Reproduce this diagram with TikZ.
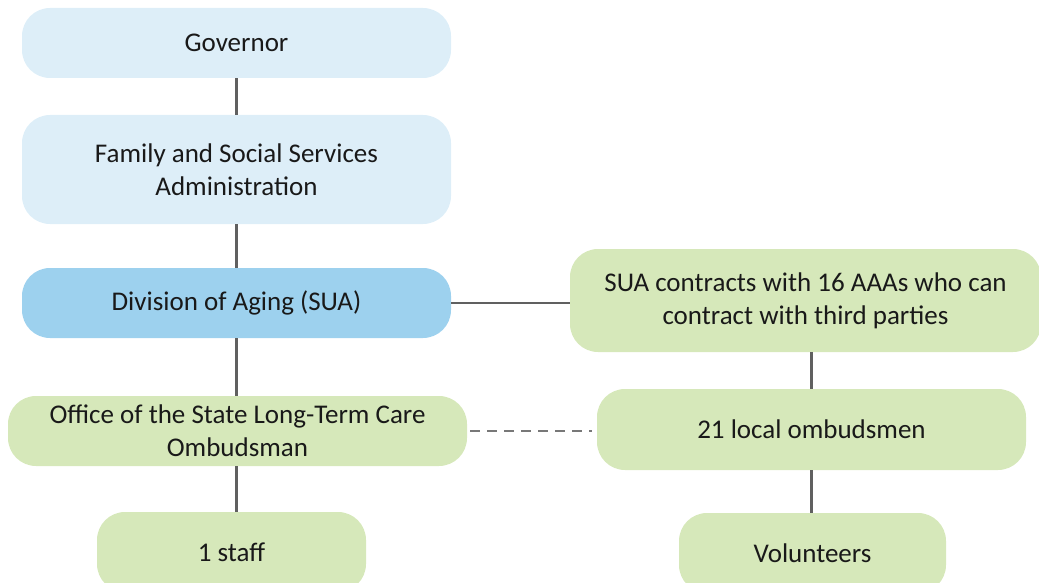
\documentclass[tikz,border=0pt]{standalone}
\usepackage{fontspec}
\setmainfont{Carlito}
\usetikzlibrary{calc}
\definecolor{paleblue}{HTML}{DDEEF8}
\definecolor{midblue}{HTML}{9DD1EE}
\definecolor{palegreen}{HTML}{D6E8BA}
\definecolor{linkgray}{HTML}{606060}
\tikzset{
	box/.style={rounded corners=28pt, inner sep=0pt, align=center, font=\fontsize{27}{33}\selectfont, text=black!90},
	govbox/.style={box, fill=paleblue},
	suabox/.style={box, fill=midblue},
	ombbox/.style={box, fill=palegreen},
	link/.style={draw=linkgray, line width=2.2pt},
	dashlink/.style={link, draw=linkgray!85, dash pattern=on 10pt off 7pt}
}
\begin{document}
\begin{tikzpicture}[x=1pt, y=1pt]
			%%%%% START %%%%%
			\useasboundingbox (0, 0) rectangle (1039, -583);
			
			\node[govbox, minimum width=429pt, minimum height=70pt] (gov) at (236.5, -43) {Governor};
			\node[govbox, minimum width=429pt, minimum height=109pt] (fssa) at (236.5, -169.5) {Family and Social Services\\Administration};
			\node[suabox, minimum width=429pt, minimum height=70pt] (sua) at (236.5, -303) {Division of Aging (SUA)};
			
			\node[ombbox, minimum width=471pt, minimum height=103pt] (aaa) at (805.5, -300.5) {SUA contracts with 16 AAAs who can\\contract with third parties};
			
			\node[ombbox, minimum width=459pt, minimum height=70pt] (office) at (237.5, -431) {Office of the State Long-Term Care\\Ombudsman};
			\node[ombbox, minimum width=429pt, minimum height=81pt] (local) at (811.5, -429.5) {21 local ombudsmen};
			
			\node[ombbox, minimum width=269pt, minimum height=80pt] (staff) at (231.5, -552) {1 staff};
			\node[ombbox, minimum width=267pt, minimum height=80pt] (vol) at (812.5, -553) {Volunteers};
			
			\draw[link] (gov) -- (fssa);
			\draw[link] (fssa) -- (sua);
			\draw[link] (sua.south) -- (sua.south |- office.north);
			\draw[link] (sua.east) -- (sua.east -| aaa.west);
			\draw[link] (aaa.south -| local.north) -- (local.north);
			\draw[dashlink, shorten <=3pt, shorten >=5pt] (office.east) -- (office.east -| local.west);
			\draw[link] (sua.south |- office.south) -- (sua.south |- staff.north);
			\draw[link] (local.south) -- (local.south |- vol.north);
			
			%%%%% END %%%%%
		\end{tikzpicture}
\end{document}
